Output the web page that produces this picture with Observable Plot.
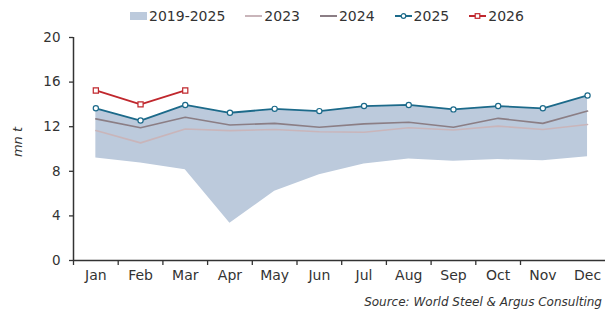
<!DOCTYPE html>
<html>
<head>
<meta charset="utf-8">
<script src="https://cdn.jsdelivr.net/npm/d3@7"></script>
<script src="https://cdn.jsdelivr.net/npm/@observablehq/plot@0.6"></script>
<style>
  body { margin: 0; background: #fff; width: 605px; height: 313px; overflow: hidden; font-family: "DejaVu Sans", sans-serif; color: #333; }
  #legend { height: 28px; display: flex; align-items: center; padding-left: 130px; box-sizing: border-box; font-size: 14px; padding-top: 4px; }
  .item { display: flex; align-items: center; margin-right: 20px; }
  .sw { width: 17px; margin-right: 2px; position: relative; }
  #caption { height: 25px; text-align: right; font-size: 12px; font-style: italic; padding-right: 3px; padding-top: 7px; box-sizing: border-box; }
  svg { display: block; }
</style>
</head>
<body>
<div id="legend"></div>
<div id="chart"></div>
<div id="caption">Source: World Steel &amp; Argus Consulting</div>
<script>
const months = ["Jan","Feb","Mar","Apr","May","Jun","Jul","Aug","Sep","Oct","Nov","Dec"];
const rangeLow  = [9.2, 8.75, 8.15, 3.35, 6.2, 7.7, 8.65, 9.1, 8.9, 9.05, 8.95, 9.3];
const rangeHigh = [13.6, 12.5, 13.9, 13.2, 13.55, 13.35, 13.85, 13.95, 13.5, 13.85, 13.6, 14.75];
const y2023 = [11.65, 10.55, 11.8, 11.65, 11.75, 11.55, 11.5, 11.9, 11.7, 12.05, 11.75, 12.2];
const y2024 = [12.7, 11.9, 12.85, 12.15, 12.3, 11.95, 12.25, 12.4, 11.95, 12.75, 12.3, 13.4];
const y2025 = [13.65, 12.55, 13.95, 13.25, 13.6, 13.4, 13.85, 13.95, 13.55, 13.85, 13.65, 14.8];
const y2026 = [15.25, 14.0, 15.25];
const yTicks = [0, 4, 8, 12, 16, 20];

const colors = {band: "#bccadc", s2023: "#c9b5ba", s2024: "#8b7e85", s2025: "#1c6a8a", s2026: "#c0272d"};

const idx = months.map((m, i) => i);
const band = idx.map(i => ({i, lo: rangeLow[i], hi: rangeHigh[i]}));
const s23 = idx.map(i => ({i, v: y2023[i]}));
const s24 = idx.map(i => ({i, v: y2024[i]}));
const s25 = idx.map(i => ({i, v: y2025[i]}));
const s26 = y2026.map((v, i) => ({i, v}));
const boundaries = idx.slice(0, 11).map(i => i - 0.5);

// legend
const legend = document.getElementById("legend");
const items = [
  {label: "2019-2025", kind: "rect", color: colors.band},
  {label: "2023", kind: "line", color: colors.s2023},
  {label: "2024", kind: "line", color: colors.s2024},
  {label: "2025", kind: "circle", color: colors.s2025},
  {label: "2026", kind: "square", color: colors.s2026}
];
for (const it of items) {
  const d = document.createElement("div");
  d.className = "item";
  let sw;
  if (it.kind === "rect") sw = `<svg width="17" height="8"><rect width="17" height="8" fill="${it.color}"/></svg>`;
  else if (it.kind === "line") sw = `<svg width="17" height="8"><line x1="0" x2="17" y1="4" y2="4" stroke="${it.color}" stroke-width="2"/></svg>`;
  else if (it.kind === "circle") sw = `<svg width="17" height="8"><line x1="0" x2="17" y1="4" y2="4" stroke="${it.color}" stroke-width="2"/><circle cx="8.5" cy="4" r="2.3" fill="#fff" stroke="${it.color}" stroke-width="1.2"/></svg>`;
  else sw = `<svg width="17" height="8"><line x1="0" x2="17" y1="4" y2="4" stroke="${it.color}" stroke-width="2"/><rect x="6.2" y="1.7" width="4.6" height="4.6" fill="#fff" stroke="${it.color}" stroke-width="1.2"/></svg>`;
  d.innerHTML = `<span class="sw">${sw}</span><span>${it.label}</span>`;
  legend.appendChild(d);
}

const chart = Plot.plot({
  width: 605,
  height: 260,
  marginTop: 9,
  marginBottom: 28,
  marginLeft: 73,
  marginRight: 0,
  style: {fontFamily: "DejaVu Sans, sans-serif", fontSize: "13px", color: "#333", background: "#fff"},
  x: {type: "linear", domain: [-0.5, 11.5], range: [73, 609.4]},
  y: {domain: [0, 20]},
  marks: [
    Plot.areaY(band, {x: "i", y1: "lo", y2: "hi", fill: colors.band}),
    Plot.line(s23, {x: "i", y: "v", stroke: colors.s2023, strokeWidth: 1.6}),
    Plot.line(s24, {x: "i", y: "v", stroke: colors.s2024, strokeWidth: 1.6}),
    Plot.line(s25, {x: "i", y: "v", stroke: colors.s2025, strokeWidth: 1.8}),
    Plot.dot(s25, {x: "i", y: "v", r: 2.6, fill: "#fff", stroke: colors.s2025, strokeWidth: 1.2}),
    Plot.line(s26, {x: "i", y: "v", stroke: colors.s2026, strokeWidth: 1.8}),
    Plot.dot(s26, {x: "i", y: "v", symbol: "square", r: 2.9, fill: "#fff", stroke: colors.s2026, strokeWidth: 1.2}),
    Plot.axisY({ticks: yTicks, tickSize: 4, tickPadding: 9, stroke: "#333", strokeWidth: 1.3, fontSize: "13.5px", label: null}),
    Plot.text(["mn t"], {frameAnchor: "left", rotate: -90, dx: -56, dy: -7, textAnchor: "middle", fontStyle: "italic", fontSize: "13px", fill: "#333"}),
    Plot.axisX({ticks: boundaries, tickSize: 5, tickFormat: () => "", stroke: "#333", strokeWidth: 1.3, label: null}),
    Plot.axisX({ticks: idx, tickSize: 0, tickPadding: 10, tickFormat: i => months[i], fontSize: "14px", label: null}),
    Plot.ruleX([-0.5], {y1: 0, y2: 20, stroke: "#333", strokeWidth: 1.5}),
    Plot.ruleY([0], {stroke: "#333", strokeWidth: 1.5})
  ]
});
document.getElementById("chart").appendChild(chart);
</script>
</body>
</html>
